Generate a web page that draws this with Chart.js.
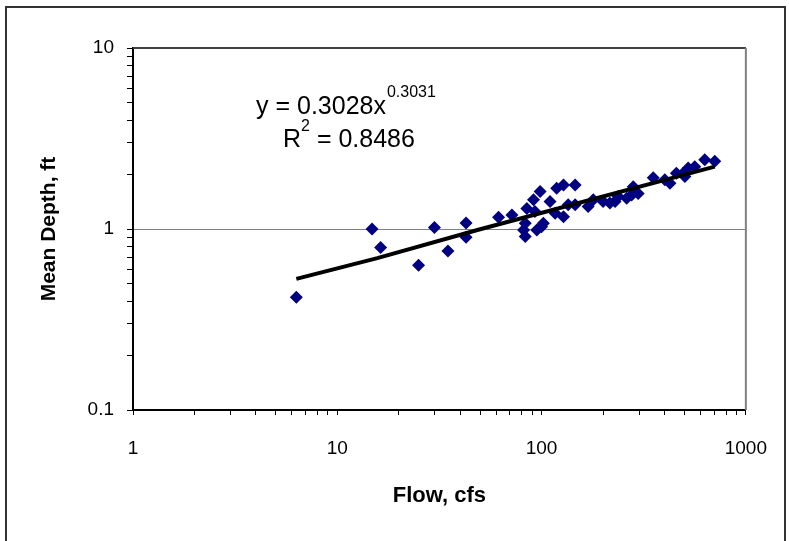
<!DOCTYPE html>
<html lang="en">
<head>
<meta charset="UTF-8">
<title>Mean Depth vs Flow</title>
<script src="https://cdn.jsdelivr.net/npm/chart.js"></script>
<style>
  body { margin: 0; background: #fff; }
</style>
</head>
<body>
<canvas id="depthChart" width="789" height="541"></canvas>
<script>
  // flow (cfs) and mean depth (ft)
  const flow = [6.3, 14.8, 16.3, 25, 29.9, 34.8, 42.7, 42.7, 61.6, 71.6, 84.7, 91.3, 98.4, 83.2, 81.6,
    94.8, 102, 110, 118.6, 128, 146, 116.5, 128, 135, 146, 169, 179, 200, 216, 229, 237, 261, 276,
    281, 297, 352, 401, 425, 457, 493, 522, 562, 629, 704, 503, 92.8, 100, 83.2];
  const depth = [0.42, 1.0, 0.79, 0.63, 1.02, 0.756, 1.08, 0.90, 1.16, 1.195, 1.30, 1.45, 1.61, 0.908, 0.987,
    0.987, 1.075, 1.42, 1.68, 1.75, 1.75, 1.22, 1.17, 1.36, 1.36, 1.33, 1.45, 1.42, 1.39, 1.42, 1.51, 1.48, 1.54,
    1.71, 1.57, 1.92, 1.87, 1.79, 2.03, 2.03, 2.17, 2.21, 2.41, 2.37, 1.95, 1.25, 1.03, 1.075];

  // power trendline as it is drawn
  const trendFlow = [6.3, 15.7, 49, 704];
  const trendDepth = [0.53, 0.69, 0.99, 2.21];

  const xMajor = [1, 10, 100, 1000];
  const yMajor = [0.1, 1, 10];
  const equationText = 'y = 0.3028x';
  const equationPower = '0.3031';
  const rText = ' = 0.8486';

  const FONT = '"Liberation Sans", Arial, sans-serif';

  function logTicks(majors) {
    const t = [];
    for (let i = 0; i < majors.length - 1; i++) {
      for (let m = 1; m <= 9; m++) t.push({ value: m * majors[i] });
    }
    t.push({ value: majors[majors.length - 1] });
    return t;
  }

  const frame = {
    id: 'frame',
    beforeDraw(chart) {
      const c = chart.ctx;
      c.save();
      c.fillStyle = '#fff';
      c.fillRect(0, 0, chart.width, chart.height);
      c.strokeStyle = '#333';
      c.lineWidth = 2;
      c.strokeRect(6, 7, 779, 545);
      c.restore();
    },
    afterDraw(chart) {
      const a = chart.chartArea;
      const c = chart.ctx;
      c.save();
      c.strokeStyle = '#404040';
      c.lineWidth = 2;
      c.beginPath();
      c.moveTo(a.left, a.top);
      c.lineTo(a.right, a.top);
      c.stroke();
      c.strokeStyle = '#808080';
      c.beginPath();
      c.moveTo(a.right, a.top);
      c.lineTo(a.right, a.bottom);
      c.stroke();

      // trendline equation
      c.fillStyle = '#000';
      c.textBaseline = 'alphabetic';
      c.textAlign = 'left';
      c.font = '25px ' + FONT;
      c.fillText(equationText, 256, 114);
      const w = c.measureText(equationText).width;
      c.font = '16px ' + FONT;
      c.fillText(equationPower, 256 + w + 1, 97);
      c.font = '25px ' + FONT;
      c.fillText('R', 283, 147);
      const wr = c.measureText('R').width;
      c.font = '16px ' + FONT;
      c.fillText('2', 283 + wr, 131);
      const w2 = c.measureText('2').width;
      c.font = '25px ' + FONT;
      c.fillText(rText, 283 + wr + w2, 147);
      c.restore();
    }
  };

  new Chart(document.getElementById('depthChart'), {
    type: 'scatter',
    data: {
      datasets: [{
        label: 'Mean Depth',
        data: flow.map((f, i) => ({ x: f, y: depth[i] })),
        backgroundColor: '#000080',
        borderColor: '#000080',
        pointStyle: 'rectRot',
        pointRadius: 6.5,
        borderWidth: 0,
        order: 2
      }, {
        label: 'Power trend',
        type: 'line',
        data: trendFlow.map((f, i) => ({ x: f, y: trendDepth[i] })),
        borderColor: '#000',
        borderWidth: 4,
        pointRadius: 0,
        fill: false,
        order: 1
      }]
    },
    options: {
      responsive: false,
      animation: false,
      layout: { padding: { left: 0, top: 48, right: 41, bottom: 0 } },
      plugins: {
        legend: { display: false },
        tooltip: { enabled: false }
      },
      scales: {
        x: {
          type: 'logarithmic',
          min: 1,
          max: 1000,
          afterBuildTicks: s => { s.ticks = logTicks(xMajor); },
          afterFit: s => { s.height = 131; },
          border: { color: '#000', width: 2 },
          grid: { color: 'transparent', tickColor: '#000', tickLength: 5, drawOnChartArea: false },
          ticks: {
            autoSkip: false,
            maxRotation: 0,
            padding: 22,
            color: '#000',
            font: { family: FONT, size: 19 },
            callback: v => xMajor.includes(v) ? String(v) : ''
          },
          title: {
            display: true,
            text: 'Flow, cfs',
            color: '#000',
            font: { family: FONT, size: 22, weight: 'bold' },
            padding: { top: 0, bottom: 32 }
          }
        },
        y: {
          type: 'logarithmic',
          min: 0.1,
          max: 10,
          afterBuildTicks: s => { s.ticks = logTicks(yMajor); },
          afterFit: s => { s.width = 133; },
          border: { color: '#000', width: 2 },
          grid: {
            color: c => (c.tick && c.tick.value === 1) ? '#808080' : 'transparent',
            tickColor: '#000',
            tickLength: 6
          },
          ticks: {
            autoSkip: false,
            padding: 13,
            color: '#000',
            font: { family: FONT, size: 19 },
            callback: v => yMajor.includes(v) ? String(v) : ''
          },
          title: {
            display: true,
            text: 'Mean Depth, ft',
            color: '#000',
            font: { family: FONT, size: 21, weight: 'bold' },
            padding: { top: 37, bottom: 0 }
          }
        }
      }
    },
    plugins: [frame]
  });
</script>
</body>
</html>
